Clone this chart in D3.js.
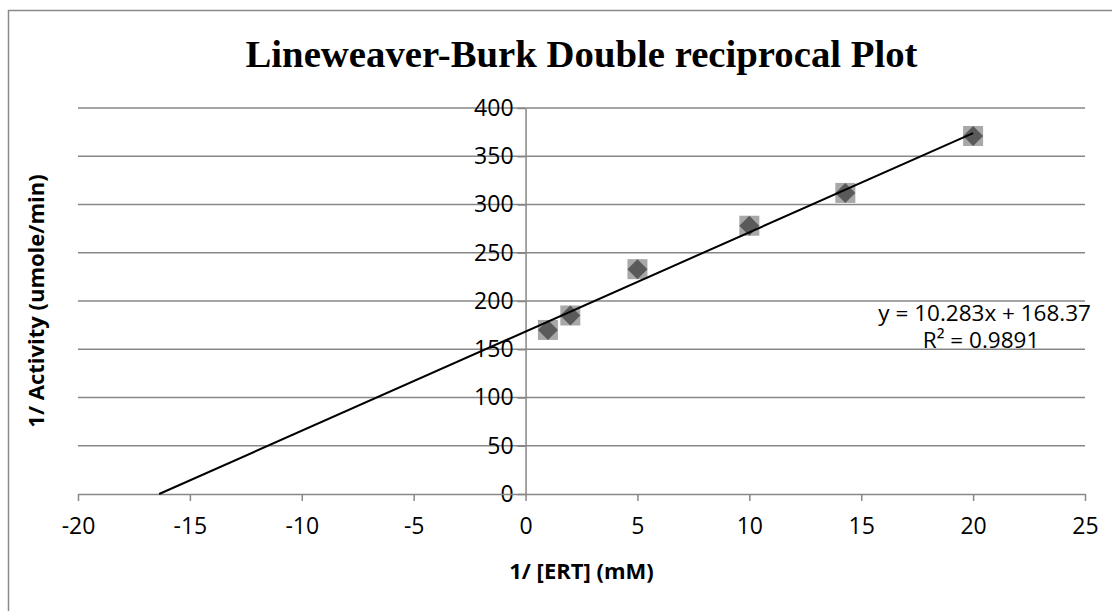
<!DOCTYPE html>
<html>
<head>
<meta charset="utf-8">
<script src="https://cdn.jsdelivr.net/npm/d3@7"></script>
<style>
  body { margin: 0; background: #fff; }
  svg text { fill: #000; }
</style>
</head>
<body>
<div id="chart"></div>
<script>
// Data
const xValues = [1, 2, 5, 10, 14.29, 20];
const yValues = [170, 185, 233, 278, 312, 371];
const xTicks = [-20, -15, -10, -5, 0, 5, 10, 15, 20, 25];
const yTicks = [0, 50, 100, 150, 200, 250, 300, 350, 400];
const slope = 10.283;
const intercept = 168.37;
const eqLabel = "y = 10.283x + 168.37";
const r2Label = "R² = 0.9891";

const W = 1112, H = 611;
const plot = { left: 78, right: 1085, top: 108, bottom: 494 };
const gridColor = "#878787";
const tickFont = "'Open Sans', sans-serif";

const svg = d3.select("#chart").append("svg")
    .attr("width", W)
    .attr("height", H);

// chart frame
svg.append("rect")
    .attr("x", 8.5).attr("y", 10.5)
    .attr("width", W + 20).attr("height", H + 20)
    .attr("fill", "none")
    .attr("stroke", "#8a8a8a")
    .attr("stroke-width", 1.5);

const x = d3.scaleLinear().domain([-20, 25]).range([plot.left, plot.right]);
const y = d3.scaleLinear().domain([0, 400]).range([plot.bottom, plot.top]);

// plain hyphen for negatives, like the original
const fmt = d => String(d);

// horizontal gridlines
svg.append("g")
    .selectAll("line")
    .data(yTicks.filter(d => d > 0))
    .enter().append("line")
    .attr("x1", plot.left).attr("x2", plot.right)
    .attr("y1", d => y(d)).attr("y2", d => y(d))
    .attr("stroke", gridColor)
    .attr("stroke-width", 1.5);

// y axis at x = 0
const yAxis = svg.append("g")
    .attr("transform", `translate(${x(0)},0)`)
    .call(d3.axisLeft(y).tickValues(yTicks).tickFormat(fmt).tickSize(8).tickPadding(4).tickSizeOuter(0));
yAxis.select(".domain").attr("stroke", gridColor).attr("stroke-width", 1.5);
yAxis.selectAll(".tick line").attr("stroke", gridColor).attr("stroke-width", 1.5);
yAxis.selectAll("text")
    .style("font-family", tickFont)
    .style("font-size", "23px")
    .attr("fill", "#000");

// x axis at y = 0
const xAxis = svg.append("g")
    .attr("transform", `translate(0,${y(0)})`)
    .call(d3.axisBottom(x).tickValues(xTicks).tickFormat(fmt).tickSize(7).tickPadding(17).tickSizeOuter(0));
xAxis.select(".domain").attr("stroke", gridColor).attr("stroke-width", 1.5);
xAxis.selectAll(".tick line").attr("stroke", gridColor).attr("stroke-width", 1.5);
xAxis.selectAll("text")
    .style("font-family", tickFont)
    .style("font-size", "23px")
    .attr("fill", "#000");

// trendline (from x-intercept to last point)
const x0 = -intercept / slope;
const xEnd = d3.max(xValues);

// markers: grey square glow + dark diamond
const pts = xValues.map((v, i) => ({ x: v, y: yValues[i] }));
const mk = svg.append("g");
mk.selectAll("rect")
    .data(pts)
    .enter().append("rect")
    .attr("x", d => x(d.x) - 10)
    .attr("y", d => y(d.y) - 10)
    .attr("width", 20).attr("height", 20)
    .attr("fill", "#a8a8a8");
mk.selectAll("path")
    .data(pts)
    .enter().append("path")
    .attr("transform", d => `translate(${x(d.x)},${y(d.y)})`)
    .attr("d", "M0,-10 L10,0 L0,10 L-10,0 Z")
    .attr("fill", "#5a5a5a");

svg.append("line")
    .attr("x1", x(x0)).attr("y1", y(0))
    .attr("x2", x(xEnd)).attr("y2", y(slope * xEnd + intercept))
    .attr("stroke", "#000")
    .attr("stroke-width", 2);

// equation labels
svg.append("text")
    .attr("x", 1091).attr("y", 321)
    .attr("text-anchor", "end")
    .style("font-family", tickFont)
    .style("font-size", "22.5px")
    .text(eqLabel);
svg.append("text")
    .attr("x", 981).attr("y", 348)
    .attr("text-anchor", "middle")
    .style("font-family", tickFont)
    .style("font-size", "22.5px")
    .text(r2Label);

// title
svg.append("text")
    .attr("x", (plot.left + plot.right) / 2)
    .attr("y", 67)
    .attr("text-anchor", "middle")
    .attr("textLength", 672)
    .attr("lengthAdjust", "spacingAndGlyphs")
    .style("font-family", "'Liberation Serif', 'Times New Roman', serif")
    .style("font-weight", "bold")
    .style("font-size", "38px")
    .text("Lineweaver-Burk Double reciprocal Plot");

// axis titles
svg.append("text")
    .attr("x", (plot.left + plot.right) / 2)
    .attr("y", 579)
    .attr("text-anchor", "middle")
    .style("font-family", tickFont)
    .style("font-weight", "bold")
    .style("font-size", "22px")
    .text("1/ [ERT] (mM)");

svg.append("text")
    .attr("transform", `translate(44,${(plot.top + plot.bottom) / 2}) rotate(-90)`)
    .attr("text-anchor", "middle")
    .style("font-family", tickFont)
    .style("font-weight", "bold")
    .style("font-size", "22px")
    .text("1/ Activity (umole/min)");
</script>
</body>
</html>
